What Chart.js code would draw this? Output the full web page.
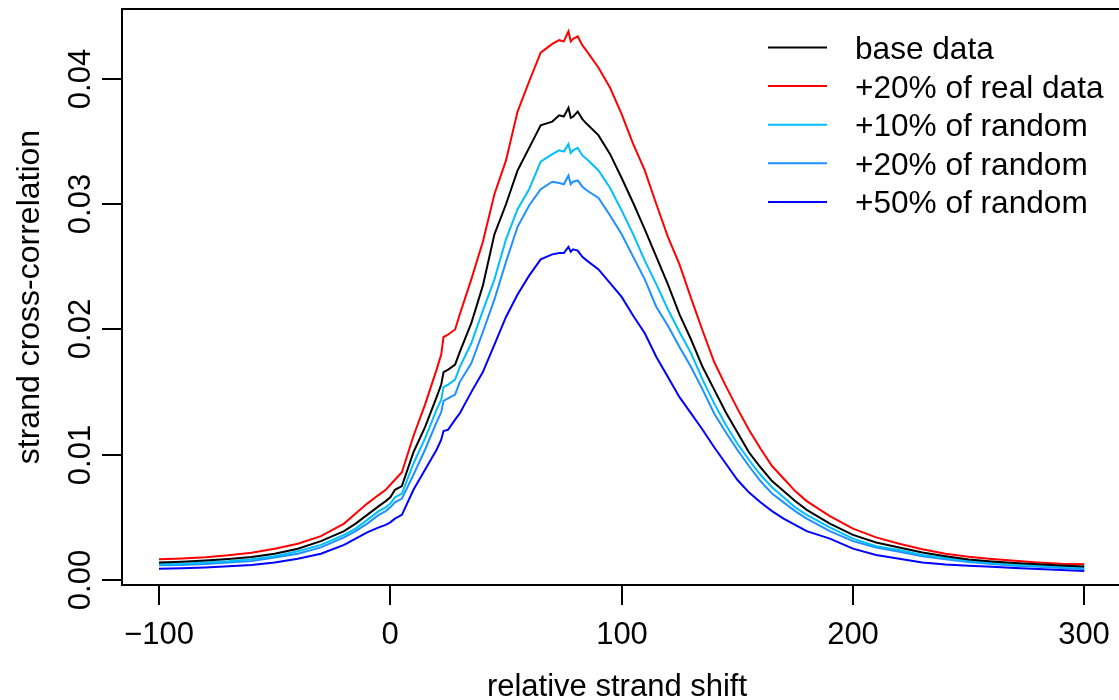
<!DOCTYPE html>
<html>
<head>
<meta charset="utf-8">
<script src="https://cdn.jsdelivr.net/npm/chart.js@4/dist/chart.umd.min.js"></script>
<style>
  html, body { margin: 0; padding: 0; background: #ffffff; }
  #wrap { width: 1119px; height: 700px; position: relative; }
</style>
</head>
<body>
<div id="wrap"><canvas id="c" width="1119" height="700"></canvas></div>
<script>
// ---- data ----
const shifts = [-100, -90, -80, -70, -60, -50, -40, -30, -20, -15, -10, -5, -2, 0, 2, 5,
  10, 15, 20, 22, 23, 25, 28, 30, 35, 40, 45, 50, 55, 60, 65, 70, 73, 75, 77, 78, 79, 81, 83, 85,
  90, 95, 100, 105, 110, 115, 120, 125, 130, 135, 140, 145, 150, 155, 160, 165, 170, 175, 180,
  190, 200, 210, 220, 230, 240, 250, 260, 270, 280, 290, 300];

const baseData = [0.00139, 0.00145, 0.00155, 0.00168, 0.00184, 0.0021, 0.0025, 0.0031, 0.0039, 0.0045, 0.0052, 0.0059, 0.0063, 0.0066, 0.0072, 0.0075,
  0.0102, 0.0122, 0.0146, 0.0156, 0.0166, 0.0168, 0.0172, 0.0182, 0.0205, 0.0235, 0.0276, 0.0300, 0.0327, 0.0345, 0.0363, 0.0366, 0.0371, 0.0370, 0.0377, 0.0369, 0.0370, 0.0374, 0.0368, 0.0364,
  0.0355, 0.0340, 0.0321, 0.0301, 0.0280, 0.0258, 0.0236, 0.0212, 0.0192, 0.0170, 0.0152, 0.0134, 0.0118, 0.0102, 0.0090, 0.0079, 0.0071, 0.0063, 0.0056,
  0.0045, 0.0036, 0.0030, 0.0026, 0.0022, 0.0019, 0.00163, 0.00147, 0.00135, 0.00126, 0.00116, 0.00107];

const realData20 = [0.00165, 0.00172, 0.00182, 0.00198, 0.00218, 0.0025, 0.0029, 0.0035, 0.0045, 0.0053, 0.0061, 0.0068, 0.0072, 0.0076, 0.0080, 0.0086,
  0.0115, 0.0140, 0.0168, 0.0180, 0.0194, 0.0196, 0.0200, 0.0212, 0.0240, 0.0270, 0.0308, 0.0335, 0.0374, 0.0398, 0.0421, 0.0428, 0.0431, 0.0430, 0.0438, 0.0430, 0.0432, 0.0434, 0.0427, 0.0422,
  0.0409, 0.0393, 0.0372, 0.0348, 0.0327, 0.0300, 0.0274, 0.0252, 0.0225, 0.0199, 0.0174, 0.0155, 0.0137, 0.0120, 0.0105, 0.0091, 0.0081, 0.0071, 0.0063,
  0.0051, 0.0041, 0.0034, 0.0029, 0.00245, 0.0021, 0.00185, 0.00167, 0.00153, 0.0014, 0.0013, 0.00125];

const random10 = [0.00125, 0.0013, 0.0014, 0.0015, 0.00165, 0.0019, 0.0023, 0.0028, 0.0036, 0.0041, 0.0048, 0.0055, 0.0058, 0.0061, 0.0066, 0.0069,
  0.0093, 0.0113, 0.0136, 0.0144, 0.0154, 0.0156, 0.0160, 0.0170, 0.0189, 0.0215, 0.0240, 0.0272, 0.0296, 0.0312, 0.0334, 0.0340, 0.0343, 0.0342, 0.0348, 0.0341, 0.0343, 0.0345, 0.0339, 0.0336,
  0.0327, 0.0313, 0.0295, 0.0276, 0.0255, 0.0236, 0.0216, 0.0198, 0.0181, 0.0160, 0.0141, 0.0124, 0.0109, 0.0096, 0.0084, 0.0074, 0.0066, 0.0058, 0.0052,
  0.0042, 0.0033, 0.0027, 0.0024, 0.0020, 0.00175, 0.00152, 0.00135, 0.00122, 0.00113, 0.00105, 0.00098];

const random20 = [0.00117, 0.0012, 0.00128, 0.0014, 0.00152, 0.0018, 0.0021, 0.0026, 0.0034, 0.0039, 0.0045, 0.0052, 0.0055, 0.0058, 0.0062, 0.0065,
  0.0084, 0.0104, 0.0126, 0.0134, 0.0143, 0.0145, 0.0148, 0.0158, 0.0173, 0.0198, 0.0224, 0.0254, 0.0282, 0.0299, 0.0312, 0.0318, 0.0317, 0.0316, 0.0323, 0.0316, 0.0318, 0.0319, 0.0314, 0.0311,
  0.0305, 0.0291, 0.0276, 0.0258, 0.0240, 0.0218, 0.0203, 0.0186, 0.0170, 0.0152, 0.0133, 0.0118, 0.0104, 0.0091, 0.0079, 0.0069, 0.0062, 0.0055, 0.0049,
  0.0039, 0.0031, 0.0026, 0.00226, 0.0019, 0.00166, 0.00143, 0.00127, 0.00114, 0.00105, 0.00095, 0.00085];

const random50 = [0.0009, 0.00094, 0.0010, 0.0011, 0.0012, 0.0014, 0.0017, 0.0021, 0.0028, 0.0033, 0.0038, 0.0042, 0.0044, 0.0046, 0.0049, 0.0052,
  0.0072, 0.0088, 0.0104, 0.0112, 0.0119, 0.0120, 0.0128, 0.0133, 0.0150, 0.0166, 0.0188, 0.0210, 0.0228, 0.0243, 0.0256, 0.0260, 0.0261, 0.0261, 0.0266, 0.0262, 0.0264, 0.0263, 0.0258, 0.0255,
  0.0248, 0.0237, 0.0226, 0.0211, 0.0197, 0.0178, 0.0162, 0.0146, 0.0133, 0.0120, 0.0106, 0.0093, 0.0080, 0.0070, 0.0062, 0.0055, 0.0049, 0.0044, 0.0039,
  0.0033, 0.0025, 0.0020, 0.0017, 0.0014, 0.00124, 0.00114, 0.00105, 0.00096, 0.00087, 0.0008, 0.00072];

const seriesLabels = ['base data', '+20% of real data', '+10% of random', '+20% of random', '+50% of random'];
const seriesColors = ['#000000', '#FF0000', '#00BFFF', '#1E90FF', '#0000FF'];
const xTicks = [-100, 0, 100, 200, 300];
const xTickLabels = ['\u2212100', '0', '100', '200', '300'];
const yTicks = [0, 0.01, 0.02, 0.03, 0.04];
const yTickLabels = ['0.00', '0.01', '0.02', '0.03', '0.04'];
const xTitle = 'relative strand shift';
const yTitle = 'strand cross-correlation';

const seriesValues = [baseData, realData20, random10, random20, random50];

const FONT = '"Liberation Sans", Arial, Helvetica, sans-serif';

const datasets = seriesValues.map((vals, i) => ({
  label: seriesLabels[i],
  data: shifts.map((s, j) => ({ x: s, y: vals[j] })),
  borderColor: seriesColors[i],
  backgroundColor: seriesColors[i],
  borderWidth: 2,
  pointRadius: 0,
  tension: 0,
  fill: false
}));

const rAxes = {
  id: 'rAxes',
  afterDraw(chart) {
    const ctx = chart.ctx;
    const ca = chart.chartArea;
    const xs = chart.scales.x, ys = chart.scales.y;
    ctx.save();
    ctx.strokeStyle = '#000';
    ctx.lineWidth = 2;
    ctx.lineCap = 'butt';
    // box (right side cropped in reference)
    ctx.beginPath();
    ctx.moveTo(ca.right + 2, ca.top);
    ctx.lineTo(ca.left, ca.top);
    ctx.lineTo(ca.left, ca.bottom);
    ctx.lineTo(ca.right + 2, ca.bottom);
    ctx.stroke();
    // x ticks
    ctx.fillStyle = '#000';
    ctx.font = '31px ' + FONT;
    ctx.textAlign = 'center';
    ctx.textBaseline = 'alphabetic';
    xTicks.forEach((v, i) => {
      const px = Math.round(xs.getPixelForValue(v));
      ctx.beginPath();
      ctx.moveTo(px, ca.bottom);
      ctx.lineTo(px, ca.bottom + 20);
      ctx.stroke();
      ctx.fillText(xTickLabels[i], px, 644);
    });
    // y ticks
    yTicks.forEach((v, i) => {
      const py = Math.round(ys.getPixelForValue(v));
      ctx.beginPath();
      ctx.moveTo(ca.left, py);
      ctx.lineTo(ca.left - 20, py);
      ctx.stroke();
      ctx.save();
      ctx.translate(90, py);
      ctx.rotate(-Math.PI / 2);
      ctx.textAlign = 'center';
      ctx.fillText(yTickLabels[i], 0, 0);
      ctx.restore();
    });
    // titles
    ctx.textAlign = 'center';
    ctx.fillText(xTitle, 617, 696);
    ctx.save();
    ctx.font = '32px ' + FONT;
    ctx.translate(39, (ca.top + ca.bottom) / 2);
    ctx.rotate(-Math.PI / 2);
    ctx.fillText(yTitle, 0, 0);
    ctx.restore();
    // legend
    const ly0 = 47.5, ldy = 38.6;
    ctx.font = '31.6px ' + FONT;
    ctx.textAlign = 'left';
    seriesLabels.forEach((lab, i) => {
      const y = ly0 + i * ldy;
      ctx.strokeStyle = seriesColors[i];
      ctx.lineWidth = 2;
      ctx.beginPath();
      ctx.moveTo(768, y);
      ctx.lineTo(827, y);
      ctx.stroke();
      ctx.fillStyle = '#000';
      ctx.fillText(lab, 855, y + 11.5);
    });
    ctx.restore();
  }
};

new Chart(document.getElementById('c'), {
  type: 'line',
  data: { datasets },
  options: {
    responsive: false,
    animation: false,
    parsing: true,
    layout: { padding: { left: 122, top: 9, right: 0, bottom: 115 } },
    plugins: { legend: { display: false }, tooltip: { enabled: false } },
    scales: {
      x: { type: 'linear', display: false, min: -116, max: 315 },
      y: { type: 'linear', display: false, min: -0.0004, max: 0.045589 }
    }
  },
  plugins: [rAxes]
});
</script>
</body>
</html>
